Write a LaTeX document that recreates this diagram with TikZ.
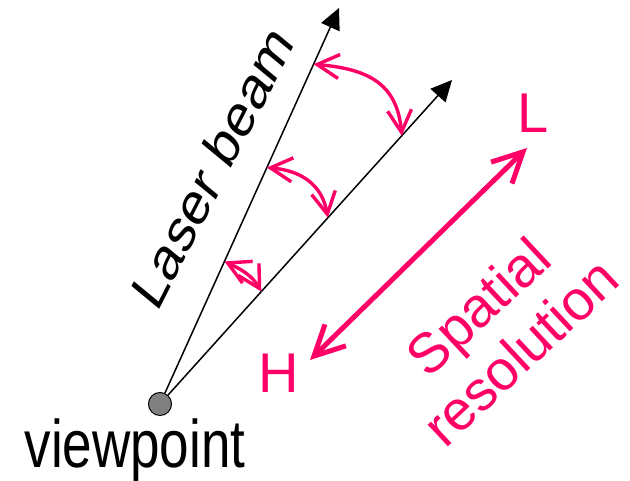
\documentclass[tikz,border=0pt]{standalone}
\usepackage{fontspec}
\setmainfont{Liberation Sans}
\usepackage{tikz}
\usetikzlibrary{arrows.meta, calc}
\definecolor{beampink}{RGB}{255, 0, 102}

\begin{document}
\begin{tikzpicture}[
  x=1pt, y=1pt,
  beam/.style={-{Triangle[length=21pt, width=20pt]}, line width=1.5pt, color=black},
  angle/.style={{Straight Barb[length=22pt, width=24pt]}-{Straight Barb[length=22pt, width=24pt]}, line width=3.4pt, color=beampink},
  res/.style={{Straight Barb[length=30pt, width=30pt]}-{Straight Barb[length=30pt, width=30pt]}, line width=5pt, color=beampink},
  bigtext/.style={font=\fontsize{53pt}{62pt}\selectfont, inner sep=0pt},
  pinktext/.style={bigtext, font=\fontsize{56pt}{62pt}\selectfont, text=beampink}
]
  \useasboundingbox (0, 0) rectangle (630, 481);

  % Punto di vista e fasci
  \coordinate (tip1) at (339, 473);
  \coordinate (tip2) at (452, 401);
  \node[circle, draw=black, fill=gray, line width=1pt, minimum size=23pt, inner sep=0pt] (vp) at (160, 77) {};
  \draw[beam] (vp) -- (tip1);
  \draw[beam] (vp) -- (tip2);

  % Angoli
  \coordinate (a1) at ($(vp.center)!0.858!(tip1)$);
  \coordinate (b1) at ($(vp.center)!0.828!(tip2)$);
  \coordinate (a2) at ($(vp.center)!0.597!(tip1)$);
  \coordinate (b2) at ($(vp.center)!0.575!(tip2)$);
  \coordinate (a3) at ($(vp.center)!0.360!(tip1)$);
  \coordinate (b3) at ($(vp.center)!0.347!(tip2)$);
  \draw[angle] (a1) to[out=-5, in=95, looseness=1.2] (b1);
  \draw[angle] (a2) to[out=-5, in=100, looseness=1.1] (b2);
  \draw[angle] (a3) to[out=-25, in=120] (b3);

  % Testi
  \node[bigtext, anchor=base, yscale=1.27] (vplabel) at (135, 13) {viewpoint};
  \node[bigtext, font=\fontsize{48pt}{56pt}\selectfont, yscale=1.27, rotate=57] (laser) at (212, 314) {Laser beam};

  % Risoluzione
  \node[pinktext, anchor=base] (low) at (533, 348) {L};
  \node[pinktext, anchor=base] (high) at (278.5, 88) {H};
  \coordinate (resL) at (527, 333);
  \coordinate (resH) at (310, 121);
  \draw[res] (resH) -- (resL);
  \node[pinktext, align=center, rotate=43] (spatial) at (499, 152) {Spatial\\resolution};

\end{tikzpicture}
\end{document}
